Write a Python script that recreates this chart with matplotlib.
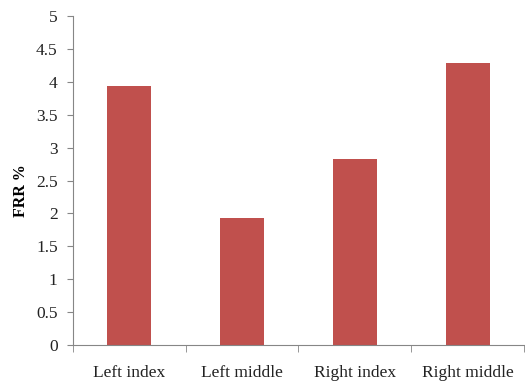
import numpy as np
import matplotlib.pyplot as plt

# finger positions and their false rejection rate
fingers = ['Left index', 'Left middle', 'Right index', 'Right middle']
frr = [3.94, 1.93, 2.83, 4.29]
y_ticks = [0, 0.5, 1, 1.5, 2, 2.5, 3, 3.5, 4, 4.5, 5]

plt.rcParams['font.family'] = ['Liberation Serif', 'DejaVu Serif']

fig = plt.figure(figsize=(5.25, 3.83), dpi=100)
ax = fig.add_axes([0.139, 0.099, 0.859, 0.859])

x = np.arange(len(fingers))
ax.bar(x, frr, width=0.39, color='#C0504D', zorder=2)

ax.set_xlim(-0.5, len(fingers) - 0.5)
ax.set_ylim(0, 5)
ax.set_yticks(y_ticks)
ax.set_yticklabels([f'{t:g}' for t in y_ticks])
ax.set_xticks(x)
ax.set_xticklabels(fingers)
# category separators as tick marks
ax.set_xticks(np.arange(len(fingers) + 1) - 0.5, minor=True)

gray = '#868686'
for side in ['top', 'right']:
    ax.spines[side].set_visible(False)
for side in ['left', 'bottom']:
    ax.spines[side].set_color(gray)
    ax.spines[side].set_linewidth(0.8)

ax.tick_params(axis='y', length=4, color=gray, labelsize=12.5, labelcolor='#222222', pad=7)
ax.tick_params(axis='x', which='major', length=0, labelsize=12.5, labelcolor='#222222', pad=14)
ax.tick_params(axis='x', which='minor', length=5, color=gray)

ax.set_ylabel('FRR %', fontsize=11.5, fontweight='bold')
ax.yaxis.set_label_coords(-0.098, 0.47)

plt.savefig('out.png', dpi=100)
